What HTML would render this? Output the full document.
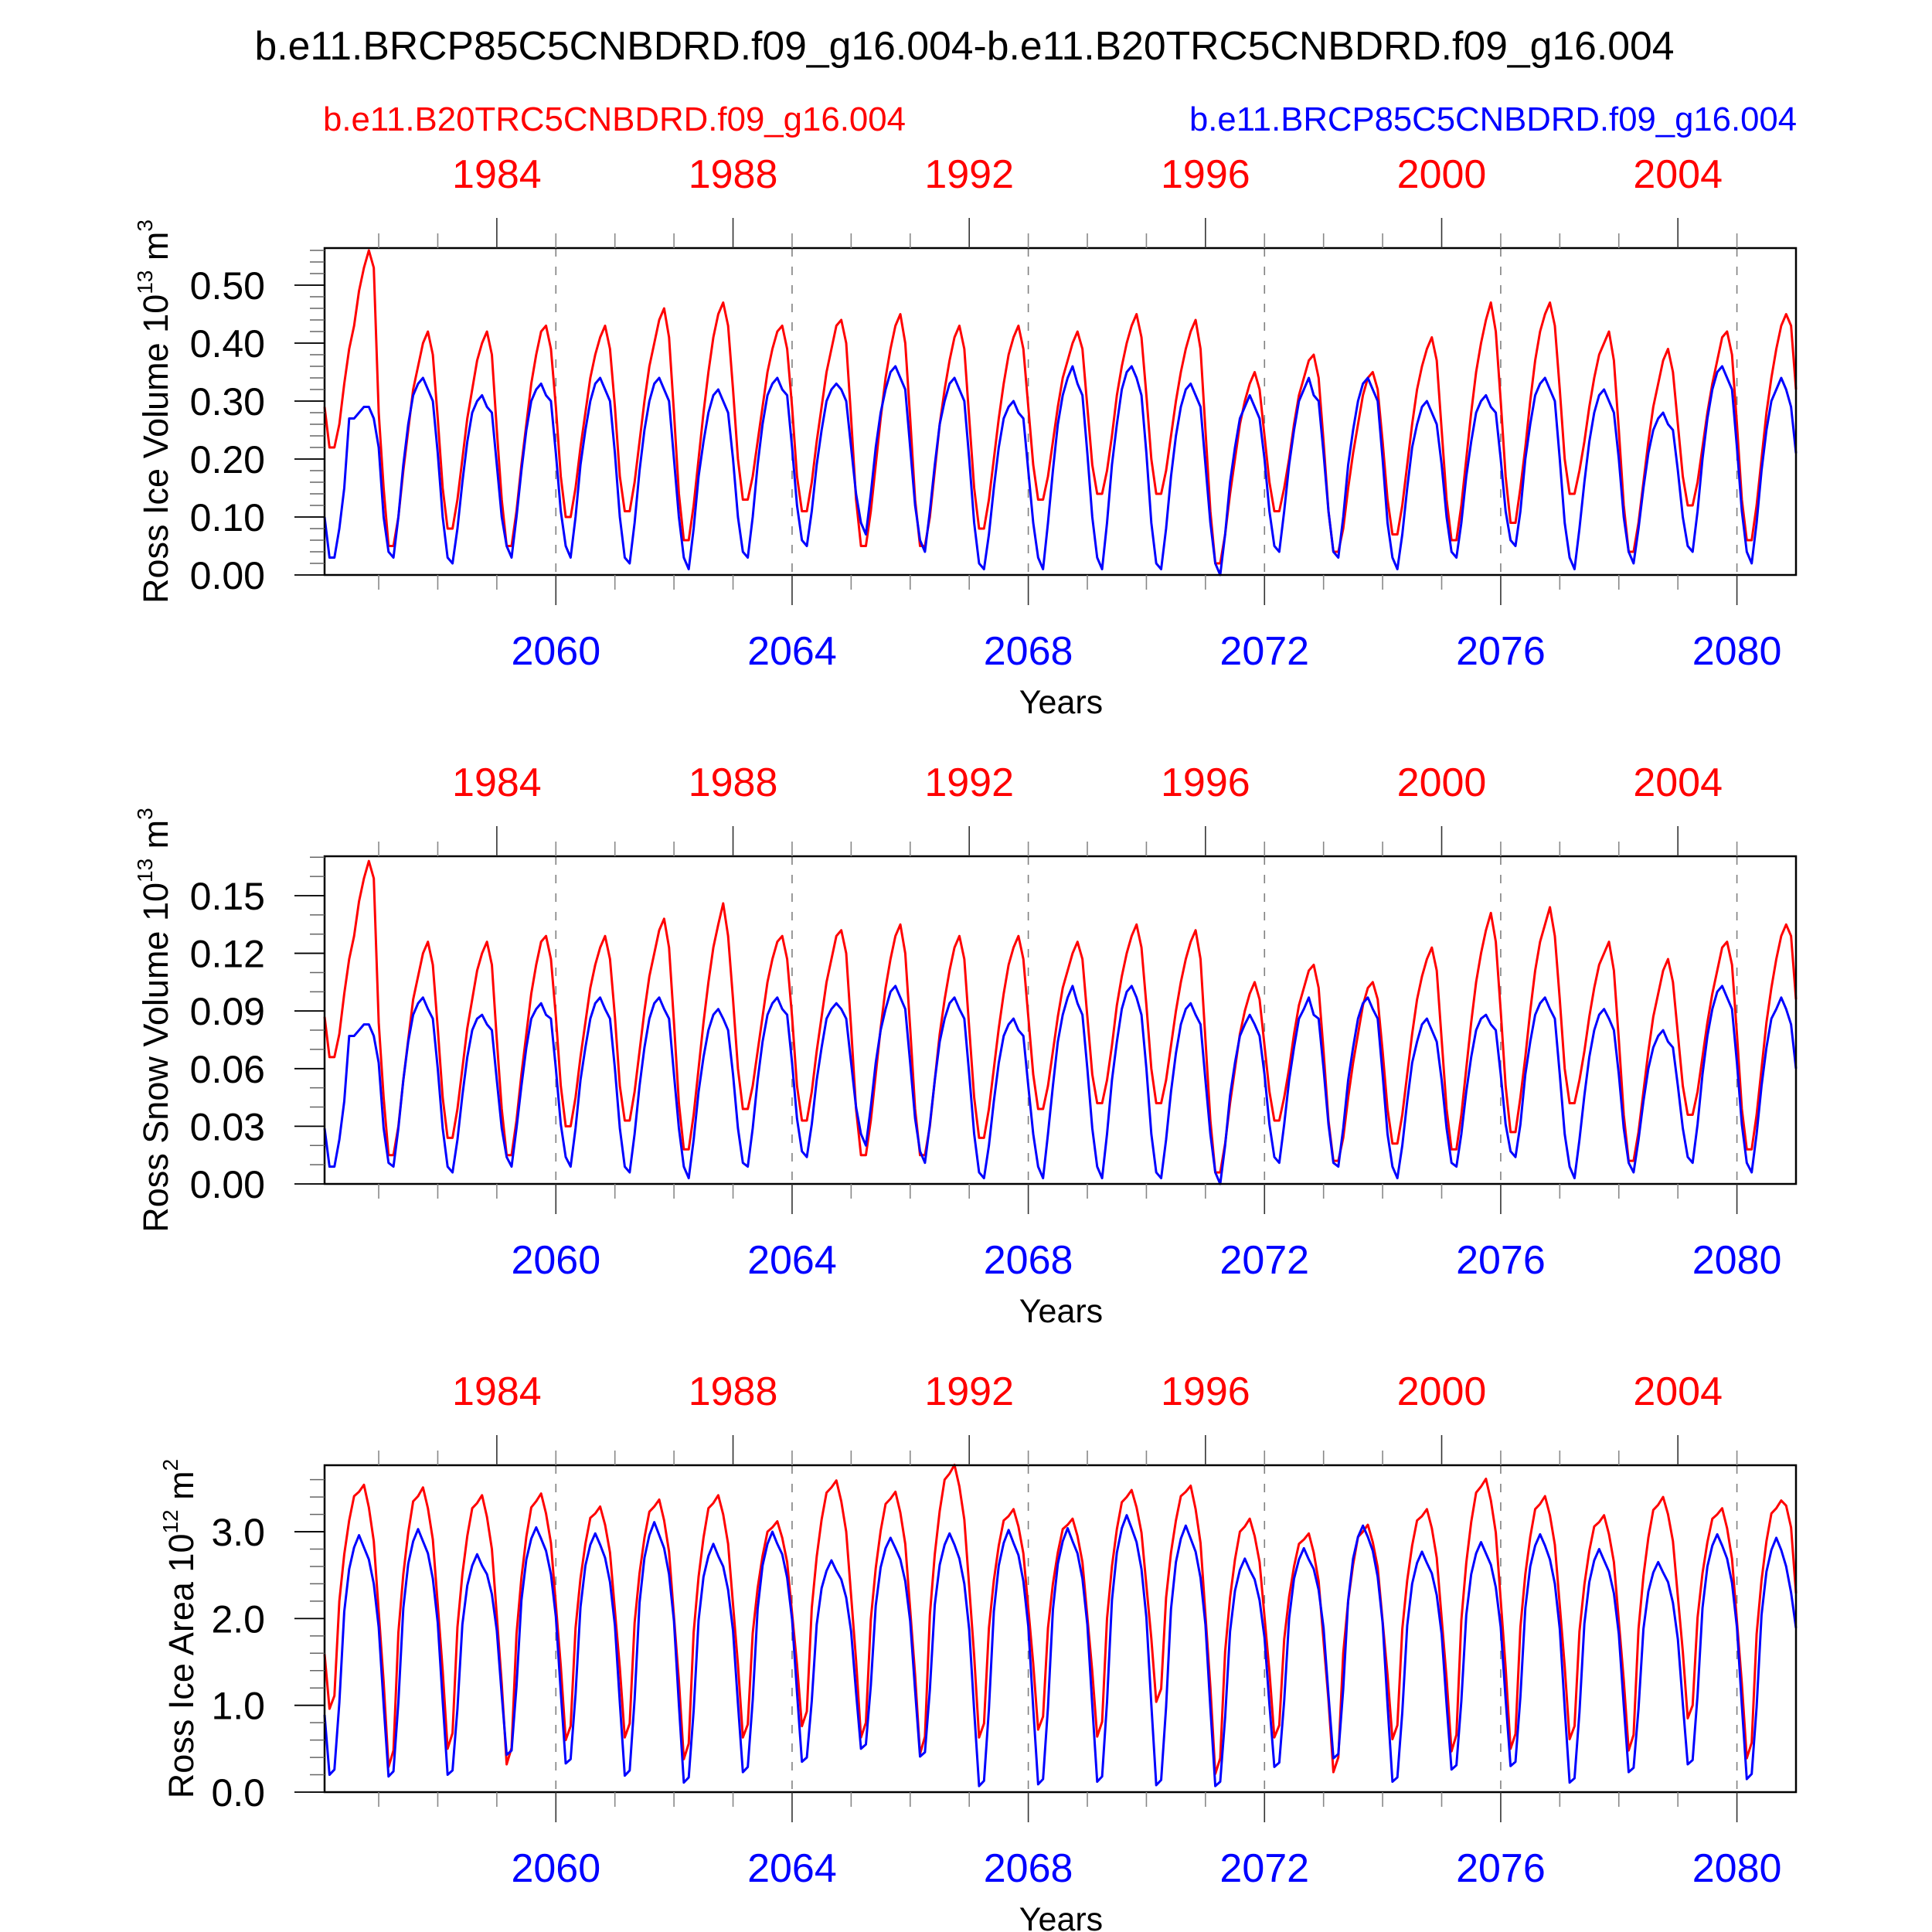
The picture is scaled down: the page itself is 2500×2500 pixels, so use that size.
<!DOCTYPE html>
<html><head><meta charset="utf-8"><title>Ross Ice</title>
<style>html,body{margin:0;padding:0;background:#fff}svg{display:block}text{font-family:"Liberation Sans",Arial,sans-serif}</style>
</head><body>
<svg id="chart" xmlns="http://www.w3.org/2000/svg" width="2500" height="2500" viewBox="0 0 2500 2500">
<rect x="0" y="0" width="2500" height="2500" fill="#fff"/>
<text x="1248" y="77" font-size="52" text-anchor="middle" textLength="1837" lengthAdjust="spacingAndGlyphs">b.e11.BRCP85C5CNBDRD.f09_g16.004-b.e11.B20TRC5CNBDRD.f09_g16.004</text>
<text x="418" y="169" font-size="44" fill="#ff0000" textLength="754" lengthAdjust="spacingAndGlyphs">b.e11.B20TRC5CNBDRD.f09_g16.004</text>
<text x="2325" y="169" font-size="44" fill="#0000ff" text-anchor="end" textLength="786" lengthAdjust="spacingAndGlyphs">b.e11.BRCP85C5CNBDRD.f09_g16.004</text>
<g id="panels"></g>
</svg>
<script>
const bottomTickYears = [2060, 2064, 2068, 2072, 2076, 2080];
const topTickYears = [1984, 1988, 1992, 1996, 2000, 2004];
const startYear = 2056;
const yTicksIce = [0, 0.1, 0.2, 0.3, 0.4, 0.5];
const yTicksSnow = [0, 0.03, 0.06, 0.09, 0.12, 0.15];
const yTicksArea = [0, 1, 2, 3];

const iceRed = [
.29,.22,.22,.26,.33,.39,.43,.49,.53,.56,.53,.28,
.15,.05,.05,.10,.18,.25,.32,.36,.40,.42,.38,.27,
.15,.08,.08,.13,.20,.27,.32,.37,.40,.42,.38,.25,
.13,.05,.05,.11,.19,.26,.33,.38,.42,.43,.39,.29,
.17,.10,.10,.15,.22,.28,.34,.38,.41,.43,.39,.29,
.17,.11,.11,.16,.23,.30,.36,.40,.44,.46,.41,.28,
.14,.06,.06,.12,.20,.28,.35,.41,.45,.47,.43,.32,
.20,.13,.13,.17,.23,.29,.35,.39,.42,.43,.39,.29,
.17,.11,.11,.16,.23,.29,.35,.39,.43,.44,.40,.27,
.13,.05,.05,.11,.19,.27,.34,.39,.43,.45,.40,.27,
.13,.05,.05,.10,.18,.26,.32,.37,.41,.43,.39,.27,
.15,.08,.08,.13,.20,.27,.33,.38,.41,.43,.39,.29,
.19,.13,.13,.17,.23,.29,.34,.37,.40,.42,.39,.29,
.19,.14,.14,.18,.24,.31,.36,.40,.43,.45,.41,.31,
.20,.14,.14,.18,.24,.30,.35,.39,.42,.44,.39,.25,
.11,.02,.02,.07,.14,.20,.26,.30,.33,.35,.32,.24,
.16,.11,.11,.15,.20,.26,.31,.34,.37,.38,.34,.23,
.11,.04,.04,.08,.15,.21,.26,.31,.34,.35,.32,.23,
.13,.07,.07,.12,.19,.26,.32,.36,.39,.41,.37,.25,
.13,.06,.06,.12,.20,.28,.35,.40,.44,.47,.42,.30,
.17,.09,.09,.15,.22,.30,.37,.42,.45,.47,.43,.32,
.20,.14,.14,.18,.23,.29,.34,.38,.40,.42,.37,.25,
.12,.04,.04,.09,.16,.23,.29,.33,.37,.39,.35,.26,
.17,.12,.12,.16,.22,.28,.33,.37,.41,.42,.38,.26,
.13,.06,.06,.12,.20,.28,.34,.39,.43,.45,.43,.32];

const iceBlue = [
.10,.03,.03,.08,.15,.27,.27,.28,.29,.29,.27,.22,
.10,.04,.03,.10,.19,.26,.31,.33,.34,.32,.30,.21,
.10,.03,.02,.08,.16,.23,.28,.30,.31,.29,.28,.19,
.10,.05,.03,.10,.18,.25,.30,.32,.33,.31,.30,.21,
.11,.05,.03,.10,.19,.25,.30,.33,.34,.32,.30,.21,
.10,.03,.02,.09,.18,.25,.30,.33,.34,.32,.30,.20,
.10,.03,.01,.08,.17,.23,.28,.31,.32,.30,.28,.20,
.10,.04,.03,.10,.19,.26,.31,.33,.34,.32,.31,.22,
.12,.06,.05,.11,.19,.25,.30,.32,.33,.32,.30,.22,
.14,.09,.07,.14,.22,.28,.32,.35,.36,.34,.32,.22,
.12,.06,.04,.11,.19,.26,.30,.33,.34,.32,.30,.20,
.09,.02,.01,.07,.15,.22,.27,.29,.30,.28,.27,.18,
.09,.03,.01,.09,.18,.26,.31,.34,.36,.33,.31,.21,
.10,.03,.01,.09,.19,.26,.32,.35,.36,.34,.31,.21,
.09,.02,.01,.08,.17,.24,.29,.32,.33,.31,.29,.19,
.09,.02,.00,.07,.16,.22,.27,.29,.31,.29,.27,.20,
.11,.05,.04,.11,.19,.25,.30,.32,.34,.31,.30,.21,
.11,.04,.03,.10,.19,.25,.30,.33,.34,.32,.30,.20,
.09,.03,.01,.07,.15,.22,.26,.29,.30,.28,.26,.19,
.10,.04,.03,.09,.17,.23,.28,.30,.31,.29,.28,.20,
.11,.06,.05,.11,.20,.26,.31,.33,.34,.32,.30,.20,
.09,.03,.01,.08,.16,.23,.28,.31,.32,.30,.28,.20,
.10,.04,.02,.08,.15,.21,.25,.27,.28,.26,.25,.18,
.10,.05,.04,.11,.20,.27,.32,.35,.36,.34,.32,.22,
.11,.04,.02,.09,.18,.25,.30,.32,.34,.32,.29,.21];

const snowRed = [
.087,.066,.066,.078,.099,.117,.129,.147,.159,.168,.159,.084,
.045,.015,.015,.030,.054,.075,.096,.108,.120,.126,.114,.081,
.045,.024,.024,.039,.060,.081,.096,.111,.120,.126,.114,.075,
.039,.015,.015,.033,.057,.078,.099,.114,.126,.129,.117,.087,
.051,.030,.030,.045,.066,.084,.102,.114,.123,.129,.117,.087,
.051,.033,.033,.048,.069,.090,.108,.120,.132,.138,.123,.084,
.042,.018,.018,.036,.060,.084,.105,.123,.135,.146,.129,.096,
.060,.039,.039,.051,.069,.087,.105,.117,.126,.129,.117,.087,
.051,.033,.033,.048,.069,.087,.105,.117,.129,.132,.120,.081,
.039,.015,.015,.033,.057,.081,.102,.117,.129,.135,.120,.081,
.039,.015,.015,.030,.054,.078,.096,.111,.123,.129,.117,.081,
.045,.024,.024,.039,.060,.081,.099,.114,.123,.129,.117,.087,
.057,.039,.039,.051,.069,.087,.102,.111,.120,.126,.117,.087,
.057,.042,.042,.054,.072,.093,.108,.120,.129,.135,.123,.093,
.060,.042,.042,.054,.072,.090,.105,.117,.126,.132,.117,.075,
.033,.006,.006,.021,.042,.060,.078,.090,.099,.105,.096,.072,
.048,.033,.033,.045,.060,.078,.093,.102,.111,.114,.102,.069,
.033,.012,.012,.024,.045,.063,.078,.093,.102,.105,.096,.069,
.039,.021,.021,.036,.057,.078,.096,.108,.117,.123,.111,.075,
.039,.018,.018,.036,.060,.084,.105,.120,.132,.141,.126,.090,
.051,.027,.027,.045,.066,.090,.111,.126,.135,.144,.129,.096,
.060,.042,.042,.054,.069,.087,.102,.114,.120,.126,.111,.075,
.036,.012,.012,.027,.048,.069,.087,.099,.111,.117,.105,.078,
.051,.036,.036,.048,.066,.084,.099,.111,.123,.126,.114,.078,
.039,.018,.018,.036,.060,.084,.102,.117,.129,.135,.129,.096];

const snowBlue = [
.029,.009,.009,.023,.043,.077,.077,.080,.083,.083,.077,.063,
.029,.011,.009,.029,.054,.074,.088,.094,.097,.091,.086,.060,
.029,.009,.006,.023,.046,.066,.080,.086,.088,.083,.080,.054,
.029,.014,.009,.029,.051,.071,.086,.091,.094,.088,.086,.060,
.031,.014,.009,.029,.054,.071,.086,.094,.097,.091,.086,.060,
.029,.009,.006,.026,.051,.071,.086,.094,.097,.091,.086,.057,
.029,.009,.003,.023,.048,.066,.080,.088,.091,.086,.080,.057,
.029,.011,.009,.029,.054,.074,.088,.094,.097,.091,.088,.063,
.034,.017,.014,.031,.054,.071,.086,.091,.094,.091,.086,.063,
.040,.026,.020,.040,.063,.080,.091,.100,.103,.097,.091,.063,
.034,.017,.011,.031,.054,.074,.086,.094,.097,.091,.086,.057,
.026,.006,.003,.020,.043,.063,.077,.083,.086,.080,.077,.051,
.026,.009,.003,.026,.051,.074,.088,.097,.103,.094,.088,.060,
.029,.009,.003,.026,.054,.074,.091,.100,.103,.097,.088,.060,
.026,.006,.003,.023,.048,.068,.083,.091,.094,.088,.083,.054,
.026,.006,.000,.020,.046,.063,.077,.083,.088,.083,.077,.057,
.031,.014,.011,.031,.054,.071,.086,.091,.097,.088,.086,.060,
.031,.011,.009,.029,.054,.071,.086,.094,.097,.091,.086,.057,
.026,.009,.003,.020,.043,.063,.074,.083,.086,.080,.074,.054,
.029,.011,.009,.026,.048,.066,.080,.086,.088,.083,.080,.057,
.031,.017,.014,.031,.057,.074,.088,.094,.097,.091,.086,.057,
.026,.009,.003,.023,.046,.066,.080,.088,.091,.086,.080,.057,
.029,.011,.006,.023,.043,.060,.071,.077,.080,.074,.071,.051,
.029,.014,.011,.031,.057,.077,.091,.100,.103,.097,.091,.063,
.031,.011,.006,.026,.051,.071,.086,.091,.097,.091,.083,.060];

const areaRed = [
1.59,.96,1.11,2.20,2.74,3.13,3.41,3.46,3.54,3.28,2.89,2.08,
1.27,.29,.48,1.84,2.51,2.99,3.35,3.41,3.51,3.27,2.91,2.16,
1.40,.50,.68,1.90,2.51,2.95,3.27,3.33,3.42,3.17,2.80,2.03,
1.25,.32,.51,1.82,2.47,2.94,3.28,3.35,3.44,3.21,2.87,2.16,
1.45,.60,.76,1.89,2.46,2.86,3.16,3.21,3.29,3.08,2.76,2.09,
1.43,.63,.79,1.95,2.52,2.93,3.23,3.29,3.37,3.13,2.77,2.02,
1.28,.38,.56,1.84,2.48,2.93,3.27,3.33,3.42,3.20,2.86,2.16,
1.47,.63,.78,1.83,2.35,2.72,3.00,3.05,3.12,2.93,2.65,2.06,
1.47,.76,.93,2.12,2.71,3.14,3.45,3.51,3.59,3.35,3.00,2.26,
1.52,.63,.80,1.99,2.58,3.01,3.32,3.38,3.46,3.22,2.86,2.10,
1.35,.44,.64,2.04,2.74,3.24,3.60,3.67,3.77,3.52,3.14,2.36,
1.57,.63,.79,1.89,2.44,2.84,3.13,3.18,3.26,3.06,2.75,2.12,
1.48,.72,.87,1.89,2.40,2.76,3.03,3.08,3.15,2.95,2.65,2.02,
1.39,.64,.81,2.00,2.60,3.03,3.34,3.40,3.48,3.28,2.99,2.38,
1.77,1.04,1.19,2.24,2.76,3.13,3.41,3.46,3.53,3.26,2.87,2.04,
1.21,.21,.39,1.62,2.24,2.68,3.00,3.06,3.15,2.95,2.65,2.02,
1.39,.63,.77,1.76,2.25,2.60,2.86,2.91,2.98,2.76,2.43,1.74,
1.06,.23,.40,1.60,2.20,2.62,2.94,3.00,3.08,2.88,2.59,1.97,
1.35,.61,.77,1.88,2.44,2.84,3.13,3.18,3.26,3.04,2.70,2.00,
1.31,.47,.66,1.98,2.64,3.11,3.45,3.52,3.61,3.36,2.99,2.21,
1.43,.50,.67,1.90,2.51,2.94,3.26,3.32,3.41,3.19,2.85,2.15,
1.45,.61,.76,1.85,2.39,2.78,3.06,3.11,3.19,2.97,2.65,1.97,
1.29,.48,.66,1.88,2.49,2.93,3.25,3.31,3.40,3.20,2.89,2.25,
1.62,.85,1.00,2.01,2.52,2.88,3.15,3.20,3.27,3.04,2.69,1.97,
1.25,.39,.57,1.82,2.44,2.89,3.21,3.27,3.36,3.30,3.05,2.29];

const areaBlue = [
.89,.20,.26,1.03,2.08,2.57,2.82,2.96,2.82,2.68,2.40,1.90,
1.01,.18,.24,1.04,2.12,2.63,2.89,3.03,2.89,2.75,2.46,1.95,
1.05,.20,.25,.96,1.93,2.38,2.61,2.74,2.61,2.51,2.28,1.86,
1.12,.43,.48,1.22,2.21,2.68,2.92,3.05,2.92,2.78,2.51,2.02,
1.15,.33,.38,1.13,2.13,2.61,2.85,2.98,2.85,2.70,2.42,1.92,
1.03,.19,.25,1.07,2.18,2.70,2.96,3.11,2.96,2.81,2.51,1.97,
1.01,.11,.17,.94,1.98,2.48,2.72,2.86,2.72,2.60,2.33,1.86,
1.02,.23,.29,1.06,2.11,2.61,2.86,3.00,2.86,2.74,2.47,1.99,
1.15,.35,.40,1.05,1.93,2.35,2.55,2.67,2.55,2.45,2.24,1.85,
1.15,.50,.55,1.23,2.15,2.59,2.81,2.93,2.81,2.68,2.43,1.97,
1.17,.41,.46,1.18,2.16,2.62,2.85,2.98,2.85,2.69,2.40,1.87,
.94,.07,.13,.96,2.08,2.61,2.87,3.02,2.87,2.73,2.43,1.91,
.97,.09,.15,.98,2.10,2.63,2.89,3.04,2.89,2.75,2.46,1.93,
1.00,.12,.18,1.04,2.21,2.76,3.04,3.19,3.04,2.88,2.57,2.01,
1.01,.08,.14,.98,2.11,2.65,2.92,3.07,2.92,2.77,2.47,1.93,
.97,.07,.12,.86,1.85,2.32,2.56,2.69,2.56,2.45,2.21,1.78,
1.01,.29,.34,1.05,2.00,2.46,2.68,2.81,2.68,2.57,2.33,1.89,
1.12,.39,.44,1.19,2.21,2.69,2.94,3.07,2.94,2.78,2.48,1.95,
1.01,.12,.17,.92,1.92,2.40,2.64,2.77,2.64,2.52,2.27,1.82,
1.01,.26,.31,1.05,2.04,2.51,2.75,2.88,2.75,2.62,2.36,1.90,
1.07,.30,.35,1.10,2.12,2.60,2.84,2.97,2.84,2.68,2.40,1.88,
.97,.11,.16,.92,1.94,2.42,2.67,2.80,2.67,2.54,2.29,1.82,
1.00,.23,.28,.96,1.88,2.31,2.53,2.65,2.53,2.42,2.18,1.76,
1.02,.32,.37,1.12,2.12,2.60,2.84,2.97,2.84,2.69,2.41,1.90,
1.00,.15,.21,.98,2.04,2.54,2.79,2.93,2.79,2.60,2.30,1.89];

const NS = "http://www.w3.org/2000/svg";
const left = 420, right = 2324;
const nMonths = iceRed.length;
function xs(i) { return left + i * (right - left) / (nMonths - 1); }
function tickIndex(year) { return (year - startYear) * 12 - 1; }
function mk(tag, attrs, parent) {
  const e = document.createElementNS(NS, tag);
  for (const k in attrs) e.setAttribute(k, attrs[k]);
  parent.appendChild(e);
  return e;
}
const root = document.getElementById("panels");

const panels = [
  { key: "ice-volume", top: 321, bottom: 744, ymax: 0.564, red: iceRed, blue: iceBlue, ticks: yTicksIce, minorStep: 0.02, dec: 2, title: ["Ross Ice Volume 10", "13", " m", "3"], titleX: 217 },
  { key: "snow-volume", top: 1108, bottom: 1532, ymax: 0.1705, red: snowRed, blue: snowBlue, ticks: yTicksSnow, minorStep: 0.01, dec: 2, title: ["Ross Snow Volume 10", "13", " m", "3"], titleX: 217 },
  { key: "ice-area", top: 1896, bottom: 2319, ymax: 3.766, red: areaRed, blue: areaBlue, ticks: yTicksArea, minorStep: 0.2, dec: 1, title: ["Ross Ice Area 10", "12", " m", "2"], titleX: 250 }
];

panels.forEach(function (p) {
  const g = mk("g", {}, root);
  
  
  const ys = function (v) { return p.bottom - v / p.ymax * (p.bottom - p.top); };
  const off = p.top - 321;

  // dashed gridlines at major bottom years
  bottomTickYears.forEach(function (yr) {
    const x = xs(tickIndex(yr));
    const l = mk("line", { x1: x, x2: x, y1: p.top, y2: p.bottom, stroke: "#808080", "stroke-width": 1.6, "stroke-dasharray": "11,13" }, g);
    
    
  });

  // series
  [["red", p.red, "#ff0000"], ["blue", p.blue, "#0000ff"]].forEach(function (s) {
    let d = "";
    s[1].forEach(function (v, i) { d += (i ? "L" : "M") + xs(i).toFixed(2) + "," + ys(v).toFixed(2); });
    const path = mk("path", { d: d, fill: "none", stroke: s[2], "stroke-width": 3, "stroke-linejoin": "round" }, g);
    
    
  });

  // box
  const box = mk("rect", { x: left, y: p.top, width: right - left, height: p.bottom - p.top, fill: "none", stroke: "#000", "stroke-width": 2.5 }, g);
  
  

  // x ticks (every year)
  for (let yr = startYear + 1; yr <= 2080; yr++) {
    const x = xs(tickIndex(yr));
    const major = bottomTickYears.indexOf(yr) >= 0;
    const bt = mk("line", { x1: x, x2: x, y1: p.bottom, y2: p.bottom + (major ? 39 : 19), stroke: major ? "#333" : "#888", "stroke-width": 1.6 }, g);
    
    
    const topMajor = topTickYears.indexOf(yr - 75) >= 0;
    const tt = mk("line", { x1: x, x2: x, y1: p.top, y2: p.top - (topMajor ? 39 : 19), stroke: topMajor ? "#333" : "#888", "stroke-width": 1.6 }, g);
    
    
  }
  bottomTickYears.forEach(function (yr) {
    const t = mk("text", { x: xs(tickIndex(yr)), y: p.bottom + 116, "font-size": 52, fill: "#0000ff", "text-anchor": "middle" }, g);
    t.textContent = String(yr);
    
    
  });
  topTickYears.forEach(function (yr) {
    const t = mk("text", { x: xs(tickIndex(yr + 75)), y: 243 + off, "font-size": 52, fill: "#ff0000", "text-anchor": "middle" }, g);
    t.textContent = String(yr);
    
    
  });
  const xt = mk("text", { x: 1373, y: p.bottom + 179, "font-size": 43, "text-anchor": "middle" }, g);
  xt.textContent = "Years";
  
  

  // y ticks
  const nMinor = Math.floor(p.ymax / p.minorStep + 1e-6);
  for (let k = 0; k <= nMinor; k++) {
    const v = k * p.minorStep;
    const y = ys(v);
    const mt = mk("line", { x1: left - 19, x2: left, y1: y, y2: y, stroke: "#666", "stroke-width": 1.5 }, g);
    
    
  }
  p.ticks.forEach(function (v) {
    const y = ys(v);
    const tk = mk("line", { x1: left - 39, x2: left, y1: y, y2: y, stroke: "#000", "stroke-width": 1.8 }, g);
    
    
    const t = mk("text", { x: 343, y: y + 18, "font-size": 50, "text-anchor": "end" }, g);
    t.textContent = v.toFixed(p.dec);
    
    
  });

  // y title
  const cy = (p.top + p.bottom) / 2;
  const yt = mk("text", { x: 0, y: 0, "font-size": 45, "text-anchor": "middle", transform: "translate(" + p.titleX + "," + cy + ") rotate(-90)" }, g);
  
  
  const t1 = mk("tspan", {}, yt); t1.textContent = p.title[0];
  const t2 = mk("tspan", { dy: -20, "font-size": 28 }, yt); t2.textContent = p.title[1];
  const t3 = mk("tspan", { dy: 20 }, yt); t3.textContent = p.title[2];
  const t4 = mk("tspan", { dy: -20, "font-size": 28 }, yt); t4.textContent = p.title[3];
});
</script>
</body></html>
